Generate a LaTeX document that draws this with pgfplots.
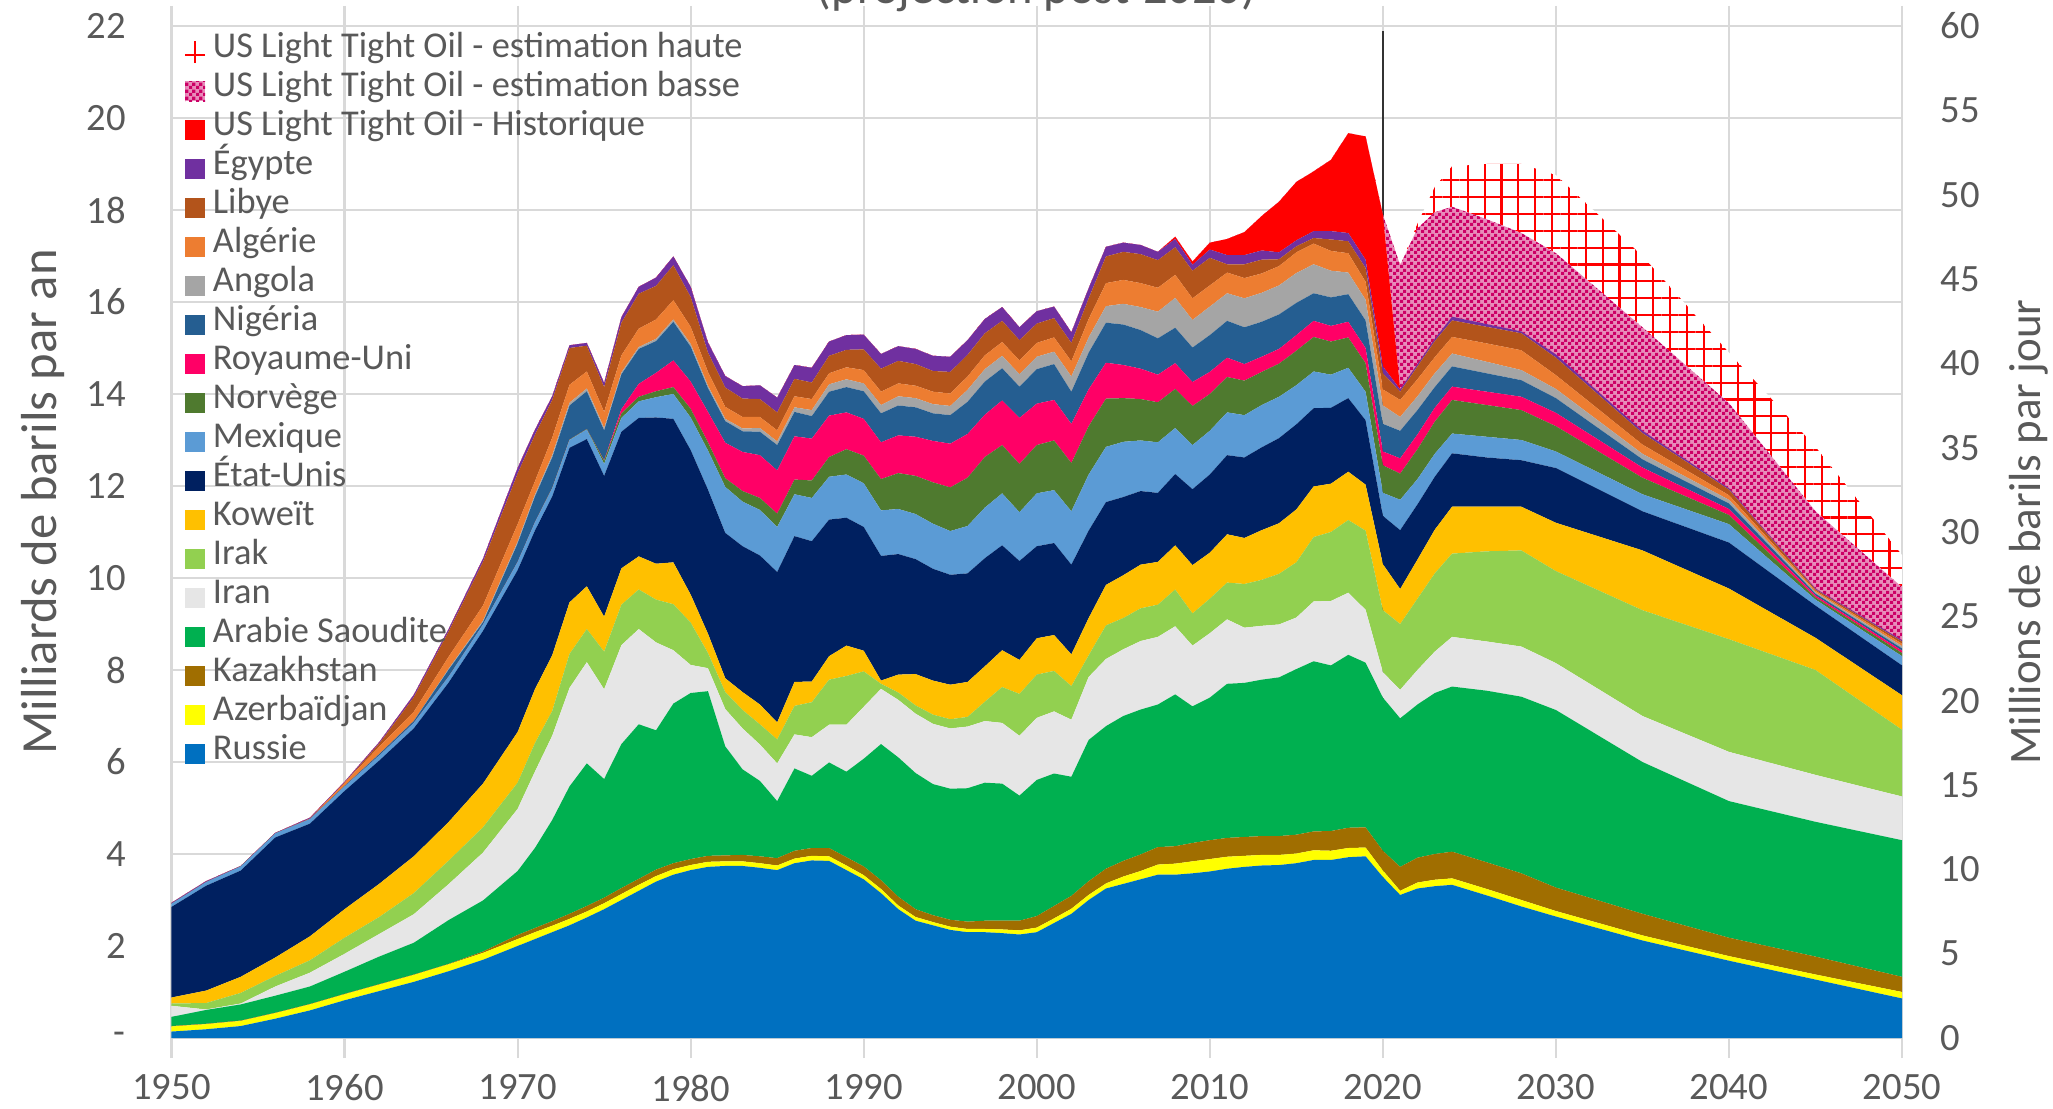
\documentclass[border=0pt]{standalone}
\usepackage{fontspec}
\setmainfont{Carlito}
\usepackage{pgfplots}
\pgfplotsset{compat=1.18}
\usepackage{pgfplotstable}
\usetikzlibrary{patterns,patterns.meta}

\definecolor{cRU}{HTML}{0070C0}
\definecolor{cAZ}{HTML}{FFFF00}
\definecolor{cKZ}{HTML}{A06E00}
\definecolor{cSA}{HTML}{00B050}
\definecolor{cIR}{HTML}{E6E6E6}
\definecolor{cIQ}{HTML}{92D050}
\definecolor{cKW}{HTML}{FFC000}
\definecolor{cUS}{HTML}{002060}
\definecolor{cMX}{HTML}{5B9BD5}
\definecolor{cNO}{HTML}{4F7A2F}
\definecolor{cUK}{HTML}{FF0066}
\definecolor{cNG}{HTML}{255E91}
\definecolor{cAO}{HTML}{A5A5A5}
\definecolor{cDZ}{HTML}{ED7D31}
\definecolor{cLY}{HTML}{B3541B}
\definecolor{cEG}{HTML}{7030A0}
\definecolor{cLTO}{HTML}{FF0000}
\definecolor{cLB}{HTML}{CC0066}
\definecolor{cLH}{HTML}{FF0000}
\definecolor{tickgray}{HTML}{595959}
\definecolor{gridgray}{HTML}{D9D9D9}

\pgfdeclarepatternformonly{finechecker}{\pgfpointorigin}{\pgfqpoint{2pt}{2pt}}{\pgfqpoint{2pt}{2pt}}{%
  \pgfpathrectangle{\pgfpointorigin}{\pgfqpoint{1pt}{1pt}}%
  \pgfpathrectangle{\pgfqpoint{1pt}{1pt}}{\pgfqpoint{1pt}{1pt}}%
  \pgfusepath{fill}}

\pgfplotstableread{
year RU AZ KZ SA IR IQ KW US MX NO UK NG AO DZ LY EG LTO LB LH
1950 0.14 0.11 0.01 0.20 0.24 0.05 0.13 1.97 0.07 0 0 0 0 0 0 0.02 0 0 0
1952 0.19 0.11 0.01 0.30 0.01 0.14 0.27 2.28 0.08 0 0 0 0 0 0 0.02 0 0 0
1954 0.26 0.11 0.01 0.35 0.02 0.23 0.35 2.31 0.09 0 0 0 0 0 0 0.01 0 0 0
1956 0.42 0.12 0.01 0.37 0.20 0.23 0.40 2.61 0.09 0 0 0 0 0 0 0.01 0 0 0
1958 0.60 0.13 0.01 0.38 0.30 0.27 0.52 2.45 0.10 0 0 0 0 0.01 0 0.02 0 0 0
1960 0.82 0.13 0.01 0.48 0.39 0.35 0.62 2.57 0.10 0 0 0.01 0 0.07 0 0.02 0 0 0
1962 1.02 0.14 0.01 0.60 0.49 0.37 0.72 2.68 0.11 0 0 0.03 0 0.16 0.07 0.03 0 0 0
1964 1.22 0.15 0.01 0.69 0.62 0.46 0.80 2.78 0.12 0 0 0.04 0 0.20 0.32 0.05 0 0 0
1966 1.45 0.15 0.01 0.95 0.78 0.51 0.84 3.03 0.13 0 0 0.15 0.02 0.26 0.55 0.05 0 0 0
1968 1.70 0.15 0.03 1.11 1.04 0.55 0.95 3.32 0.14 0 0 0.05 0.03 0.33 0.95 0.07 0 0 0
1970 2.00 0.15 0.09 1.39 1.35 0.57 1.10 3.52 0.18 0 0 0.40 0.04 0.38 1.10 0.12 0 0 0
1971 2.15 0.15 0.09 1.74 1.66 0.62 1.17 3.45 0.18 0 0 0.56 0.04 0.29 1.01 0.11 0 0 0
1972 2.30 0.14 0.10 2.20 1.83 0.54 1.21 3.45 0.18 0.01 0 0.66 0.05 0.38 0.82 0.08 0 0 0
1973 2.45 0.14 0.11 2.77 2.14 0.74 1.12 3.36 0.17 0.01 0 0.74 0.06 0.39 0.80 0.06 0 0 0
1974 2.62 0.13 0.12 3.10 2.20 0.72 0.93 3.20 0.21 0.01 0 0.82 0.06 0.37 0.56 0.06 0 0 0
1975 2.80 0.13 0.12 2.58 1.95 0.82 0.76 3.06 0.26 0.07 0.01 0.65 0.05 0.35 0.54 0.09 0 0 0
1976 3.00 0.13 0.13 3.13 2.15 0.88 0.79 2.97 0.30 0.10 0.09 0.76 0.04 0.37 0.71 0.12 0 0 0
1977 3.20 0.13 0.13 3.36 2.07 0.86 0.72 3.01 0.36 0.10 0.28 0.76 0.04 0.40 0.76 0.15 0 0 0
1978 3.40 0.12 0.14 3.03 1.91 0.93 0.78 3.18 0.44 0.13 0.40 0.69 0.05 0.42 0.73 0.18 0 0 0
1979 3.55 0.12 0.13 3.47 1.16 1.00 0.91 3.12 0.54 0.15 0.58 0.84 0.05 0.42 0.76 0.19 0 0 0
1980 3.65 0.11 0.13 3.61 0.61 0.92 0.61 3.14 0.71 0.19 0.59 0.76 0.06 0.37 0.65 0.22 0 0 0
1981 3.72 0.11 0.13 3.58 0.50 0.33 0.42 3.13 0.85 0.18 0.66 0.52 0.05 0.30 0.42 0.22 0 0 0
1982 3.74 0.10 0.13 2.37 0.81 0.37 0.30 3.16 1.00 0.19 0.77 0.47 0.05 0.26 0.42 0.25 0 0 0
1983 3.74 0.10 0.14 1.86 0.89 0.40 0.39 3.17 0.97 0.23 0.85 0.45 0.06 0.25 0.40 0.27 0 0 0
1984 3.70 0.10 0.15 1.64 0.79 0.44 0.43 3.24 0.99 0.26 0.93 0.51 0.08 0.24 0.39 0.30 0 0 0
1985 3.65 0.10 0.16 1.24 0.82 0.52 0.37 3.27 0.98 0.29 0.94 0.55 0.08 0.24 0.39 0.32 0 0 0
1986 3.80 0.10 0.17 1.79 0.74 0.62 0.52 3.17 0.91 0.32 0.94 0.53 0.10 0.24 0.38 0.30 0 0 0
1987 3.86 0.10 0.17 1.57 0.84 0.76 0.45 3.05 0.94 0.38 0.91 0.49 0.13 0.24 0.36 0.32 0 0 0
1988 3.85 0.10 0.18 1.86 0.82 0.98 0.51 2.97 0.93 0.43 0.90 0.52 0.16 0.24 0.38 0.31 0 0 0
1989 3.65 0.10 0.18 1.86 1.02 1.06 0.66 2.78 0.94 0.55 0.80 0.55 0.17 0.26 0.38 0.32 0 0 0
1990 3.45 0.09 0.19 2.34 1.13 0.77 0.45 2.69 0.95 0.60 0.80 0.60 0.17 0.29 0.45 0.32 0 0 0
1991 3.15 0.09 0.19 2.96 1.20 0.11 0.07 2.71 0.99 0.68 0.80 0.63 0.18 0.29 0.50 0.32 0 0 0
1992 2.80 0.08 0.19 3.03 1.25 0.16 0.39 2.62 0.98 0.78 0.82 0.65 0.20 0.28 0.49 0.32 0 0 0
1993 2.55 0.08 0.17 2.96 1.29 0.18 0.68 2.50 0.98 0.83 0.85 0.64 0.20 0.27 0.47 0.33 0 0 0
1994 2.45 0.07 0.15 2.85 1.31 0.20 0.74 2.43 0.98 0.90 0.90 0.60 0.20 0.27 0.45 0.33 0 0 0
1995 2.35 0.07 0.15 2.85 1.31 0.20 0.75 2.39 0.95 0.95 0.95 0.62 0.20 0.27 0.47 0.33 0 0 0
1996 2.30 0.07 0.16 2.90 1.34 0.21 0.76 2.36 1.03 1.05 0.95 0.70 0.26 0.29 0.47 0.32 0 0 0
1997 2.30 0.07 0.18 3.00 1.34 0.42 0.77 2.35 1.10 1.10 0.92 0.72 0.27 0.30 0.48 0.31 0 0 0
1998 2.28 0.08 0.19 2.98 1.32 0.78 0.80 2.28 1.13 1.05 0.97 0.70 0.27 0.30 0.46 0.30 0 0 0
1999 2.25 0.09 0.21 2.72 1.30 0.91 0.74 2.15 1.06 1.05 1.00 0.68 0.27 0.30 0.44 0.28 0 0 0
2000 2.30 0.10 0.25 2.96 1.35 0.94 0.79 2.00 1.15 1.05 0.90 0.75 0.27 0.30 0.42 0.27 0 0 0
2001 2.50 0.10 0.27 2.88 1.35 0.88 0.78 2.00 1.15 1.08 0.88 0.78 0.27 0.31 0.42 0.25 0 0 0
2002 2.70 0.11 0.28 2.59 1.24 0.73 0.69 1.95 1.16 1.05 0.85 0.70 0.33 0.33 0.40 0.23 0 0 0
2003 3.00 0.11 0.30 3.07 1.37 0.47 0.81 1.90 1.22 1.05 0.80 0.80 0.33 0.40 0.45 0.22 0 0 0
2004 3.25 0.11 0.32 3.10 1.46 0.73 0.88 1.80 1.20 1.05 0.78 0.87 0.36 0.50 0.58 0.21 0 0 0
2005 3.35 0.16 0.34 3.15 1.45 0.68 0.93 1.70 1.20 0.95 0.72 0.88 0.45 0.52 0.61 0.20 0 0 0
2006 3.45 0.18 0.36 3.15 1.49 0.71 0.95 1.60 1.10 0.90 0.66 0.84 0.50 0.52 0.63 0.20 0 0 0
2007 3.55 0.22 0.38 3.10 1.47 0.70 0.93 1.50 1.10 0.87 0.60 0.79 0.58 0.52 0.60 0.18 0 0 0
2008 3.55 0.24 0.38 3.30 1.48 0.80 0.96 1.55 1.00 0.85 0.56 0.77 0.65 0.50 0.60 0.18 0.05 0 0
2009 3.58 0.26 0.40 2.97 1.32 0.70 1.05 1.65 0.96 0.85 0.52 0.75 0.60 0.47 0.60 0.13 0.07 0 0
2010 3.62 0.27 0.41 3.10 1.40 0.75 1.00 1.70 0.95 0.80 0.48 0.80 0.62 0.46 0.60 0.18 0.15 0 0
2011 3.68 0.26 0.41 3.35 1.40 0.80 1.05 1.72 0.93 0.77 0.42 0.80 0.60 0.45 0.18 0.20 0.35 0 0
2012 3.72 0.24 0.41 3.35 1.20 0.95 1.00 1.75 0.92 0.75 0.36 0.80 0.63 0.44 0.30 0.20 0.50 0 0
2013 3.75 0.23 0.41 3.40 1.17 1.00 1.08 1.80 0.92 0.72 0.33 0.76 0.63 0.42 0.30 0.20 0.75 0 0
2014 3.76 0.22 0.41 3.45 1.15 1.10 1.10 1.85 0.90 0.72 0.32 0.75 0.63 0.42 0.15 0.15 1.10 0 0
2015 3.80 0.21 0.41 3.60 1.12 1.20 1.15 1.85 0.85 0.75 0.34 0.70 0.65 0.45 0.13 0.13 1.27 0 0
2016 3.87 0.21 0.41 3.70 1.30 1.40 1.10 1.70 0.80 0.75 0.35 0.60 0.63 0.45 0.12 0.15 1.30 0 0
2017 3.87 0.20 0.43 3.60 1.40 1.50 1.05 1.65 0.72 0.72 0.34 0.62 0.58 0.43 0.25 0.18 1.55 0 0
2018 3.93 0.20 0.44 3.76 1.35 1.58 1.05 1.60 0.66 0.66 0.34 0.60 0.47 0.42 0.26 0.18 2.17 0 0
2019 3.95 0.19 0.44 3.58 1.15 1.72 1.00 1.40 0.62 0.62 0.33 0.60 0.45 0.39 0.30 0.18 2.68 0 0
2020 3.50 0.14 0.43 3.33 0.55 1.35 1.00 1.05 0.50 0.60 0.30 0.60 0.40 0.35 0.35 0.15 3.30 0 0
2021 3.11 0.09 0.52 3.23 0.62 1.43 0.76 1.28 0.66 0.57 0.33 0.60 0.30 0.37 0.18 0.05 0 2.70 0
2022 3.25 0.13 0.54 3.33 0.75 1.55 0.85 1.20 0.55 0.65 0.32 0.53 0.30 0.37 0.28 0.05 0 2.95 0.10
2023 3.30 0.14 0.56 3.50 0.90 1.70 0.95 1.15 0.50 0.70 0.30 0.45 0.30 0.35 0.35 0.05 0 2.75 0.55
2024 3.33 0.14 0.58 3.59 1.08 1.81 1.02 1.16 0.43 0.73 0.29 0.44 0.28 0.36 0.36 0.08 0 2.39 0.88
2026 3.10 0.14 0.58 3.73 1.07 1.96 0.97 1.07 0.45 0.69 0.29 0.40 0.25 0.40 0.36 0.06 0 2.28 1.20
2028 2.86 0.14 0.58 3.84 1.09 2.09 0.95 1.01 0.44 0.65 0.29 0.36 0.22 0.43 0.37 0.04 0 2.14 1.50
2030 2.64 0.12 0.51 3.86 1.02 2.00 1.05 1.19 0.36 0.55 0.29 0.32 0.20 0.30 0.38 0.07 0 2.20 1.70
2035 2.12 0.11 0.47 3.30 1.00 2.30 1.30 0.85 0.37 0.36 0.22 0.18 0.12 0.20 0.25 0.05 0 2.25 1.55
2040 1.68 0.10 0.40 2.97 1.07 2.45 1.10 1.00 0.40 0.20 0.13 0.12 0.08 0.10 0.12 0.03 0 1.85 1.10
2045 1.27 0.11 0.39 2.93 1.02 2.28 0.70 0.70 0.13 0.05 0.04 0.04 0.03 0.03 0.03 0.02 0 1.68 1.40
2050 0.86 0.14 0.33 2.97 0.95 1.45 0.75 0.65 0.20 0.07 0.05 0.05 0.05 0.05 0.05 0.03 0 1.15 0.70
}\data

\begin{document}
\begin{tikzpicture}
\begin{axis}[
  at={(0,0)}, anchor=south west,
  scale only axis, width=173.05mm, height=101.2mm,
  xmin=1950, xmax=2050, ymin=0, ymax=22,
  xtick={1950,1960,...,2050},
  ytick={0,2,...,22},
  yticklabels={-,2,4,6,8,10,12,14,16,18,20,22},
  /pgf/number format/1000 sep={},
  /pgf/number format/assume math mode=true,
  tick label style={font=\fontsize{11}{13}\selectfont, text=tickgray},
  xmajorgrids, ymajorgrids,
  grid style={gridgray, line width=0.6pt},
  axis line style={gridgray, line width=0.6pt},
  tick align=outside,
  major tick length=2mm,
  xtick style={gridgray, line width=0.6pt},
  ytick style={draw=none},
  xticklabel style={inner sep=0pt, anchor=north, yshift=-1.6mm},
  yticklabel style={inner sep=0pt, anchor=east, xshift=-2.5mm},
  ylabel={Milliards de barils par an},
  every axis y label/.style={at={(axis description cs:0,0.5)}, xshift=-12.85mm, yshift=3mm, rotate=90, anchor=center, font=\fontsize{14.4}{16}\selectfont, text=tickgray},
  stack plots=y,
  reverse legend,
  legend cell align=left,
  legend image code/.code={\fill[#1] (0mm,-1mm) rectangle (2mm,1mm);},
  legend style={at={(0,1)}, anchor=north west, xshift=1.2mm, yshift=-0.6mm, draw=none, fill=none,
    font=\fontsize{10.35}{12}\selectfont, text=tickgray, inner sep=0pt, row sep=0pt,
    nodes={inner sep=0pt, text height=2.5mm, text depth=1.4mm},
    /tikz/every odd column/.append style={column sep=0.7mm}},
]
\addplot[draw=none, fill=cRU] table[x=year,y=RU]{\data} \closedcycle; \addlegendentry{Russie}
\addplot[draw=none, fill=cAZ] table[x=year,y=AZ]{\data} \closedcycle; \addlegendentry{Azerbaïdjan}
\addplot[draw=none, fill=cKZ] table[x=year,y=KZ]{\data} \closedcycle; \addlegendentry{Kazakhstan}
\addplot[draw=none, fill=cSA] table[x=year,y=SA]{\data} \closedcycle; \addlegendentry{Arabie Saoudite}
\addplot[draw=none, fill=cIR] table[x=year,y=IR]{\data} \closedcycle; \addlegendentry{Iran}
\addplot[draw=none, fill=cIQ] table[x=year,y=IQ]{\data} \closedcycle; \addlegendentry{Irak}
\addplot[draw=none, fill=cKW] table[x=year,y=KW]{\data} \closedcycle; \addlegendentry{Koweït}
\addplot[draw=none, fill=cUS] table[x=year,y=US]{\data} \closedcycle; \addlegendentry{État-Unis}
\addplot[draw=none, fill=cMX] table[x=year,y=MX]{\data} \closedcycle; \addlegendentry{Mexique}
\addplot[draw=none, fill=cNO] table[x=year,y=NO]{\data} \closedcycle; \addlegendentry{Norvège}
\addplot[draw=none, fill=cUK] table[x=year,y=UK]{\data} \closedcycle; \addlegendentry{Royaume-Uni}
\addplot[draw=none, fill=cNG] table[x=year,y=NG]{\data} \closedcycle; \addlegendentry{Nigéria}
\addplot[draw=none, fill=cAO] table[x=year,y=AO]{\data} \closedcycle; \addlegendentry{Angola}
\addplot[draw=none, fill=cDZ] table[x=year,y=DZ]{\data} \closedcycle; \addlegendentry{Algérie}
\addplot[draw=none, fill=cLY] table[x=year,y=LY]{\data} \closedcycle; \addlegendentry{Libye}
\addplot[draw=none, fill=cEG] table[x=year,y=EG]{\data} \closedcycle; \addlegendentry{Égypte}
\addplot[draw=none, fill=cLTO] table[x=year,y=LTO]{\data} \closedcycle; \addlegendentry{US Light Tight Oil - Historique}
\addplot[draw=none, preaction={fill=cLB!45}, pattern=finechecker, pattern color=cLB] table[x=year,y=LB]{\data} \closedcycle; \addlegendentry{US Light Tight Oil - estimation basse}
\addplot[draw=none, preaction={fill=white}, pattern={Hatch[angle=0,distance=4.8pt,line width=0.6pt]}, pattern color=cLH,
  legend image code/.code={\draw[cLH, line width=0.5pt] (1mm,-1.1mm) -- (1mm,1.1mm) (0mm,-0.3mm) -- (2mm,-0.3mm);}] table[x=year,y=LH]{\data} \closedcycle; \addlegendentry{US Light Tight Oil - estimation haute}
\draw[black!80, line width=0.6pt] (axis cs:2020,0) -- (axis cs:2020,21.9);
\end{axis}
\begin{axis}[
  at={(0,0)}, anchor=south west,
  scale only axis, width=173.05mm, height=101.2mm,
  xmin=1950, xmax=2050, ymin=0, ymax=60,
  axis x line=none,
  axis y line*=right,
  axis line style={draw=none},
  ytick={0,5,...,60},
  ytick style={draw=none},
  /pgf/number format/assume math mode=true,
  tick label style={font=\fontsize{11}{13}\selectfont, text=tickgray},
  yticklabel style={inner sep=0pt, anchor=west, xshift=3.8mm},
  ylabel={Millions de barils par jour},
  every axis y label/.style={at={(axis description cs:1,0.5)}, xshift=12.7mm, rotate=90, anchor=center, font=\fontsize{12.8}{15}\selectfont, text=tickgray},
]
\addplot[draw=none] coordinates {(1950,0)};
\end{axis}
\node[font=\fontsize{13.8}{16}\selectfont, text=tickgray, anchor=base] at (86.5mm,103.45mm) {(projection post-2020)};
\pgfresetboundingbox
\path[use as bounding box] (-17.15mm,-7.0mm) rectangle (188.15mm,103.8mm);
\end{tikzpicture}
\end{document}
